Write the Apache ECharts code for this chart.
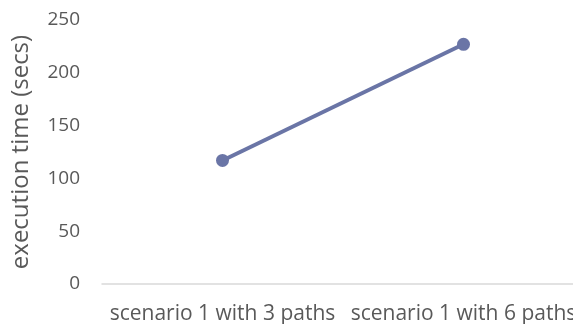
<!DOCTYPE html>
<html>
<head>
<meta charset="utf-8">
<script src="https://cdn.jsdelivr.net/npm/echarts@6/dist/echarts.min.js"></script>
<style>
  html, body { margin: 0; padding: 0; background: #ffffff; }
  #chart { width: 573px; height: 324px; }
</style>
</head>
<body>
<div id="chart"></div>
<script>
// Execution time per scenario
const categories = ['scenario 1 with 3 paths', 'scenario 1 with 6 paths'];
const executionTimes = [117, 227];
const yTicks = { min: 0, max: 250, interval: 50 };
const yTitle = 'execution time (secs)';

const chart = echarts.init(document.getElementById('chart'), null, { renderer: 'canvas' });
const fontFamily = '"Open Sans", Lato, sans-serif';
const textColor = '#595959';

chart.setOption({
  animation: false,
  backgroundColor: '#ffffff',
  grid: { left: 102, top: 20, right: -11, bottom: 40, outerBoundsMode: 'none', containLabel: false },
  xAxis: {
    type: 'category',
    data: categories,
    boundaryGap: true,
    axisLine: { show: true, lineStyle: { color: '#d9d9d9', width: 1.5 } },
    axisTick: { show: false },
    axisLabel: { color: textColor, fontSize: 21, fontFamily: fontFamily, margin: 20, interval: 0, hideOverlap: false }
  },
  yAxis: {
    type: 'value',
    min: yTicks.min,
    max: yTicks.max,
    interval: yTicks.interval,
    name: yTitle,
    nameLocation: 'middle',
    nameGap: 69,
    nameRotate: 90,
    nameTextStyle: { color: textColor, fontSize: 24, fontFamily: fontFamily },
    axisLine: { show: false },
    axisTick: { show: false },
    splitLine: { show: false },
    axisLabel: { color: textColor, fontSize: 19, fontFamily: fontFamily, margin: 22 }
  },
  series: [{
    type: 'line',
    data: executionTimes,
    symbol: 'circle',
    symbolSize: 13,
    lineStyle: { color: '#6a75a6', width: 4 },
    itemStyle: { color: '#6a75a6' }
  }]
});
</script>
</body>
</html>
